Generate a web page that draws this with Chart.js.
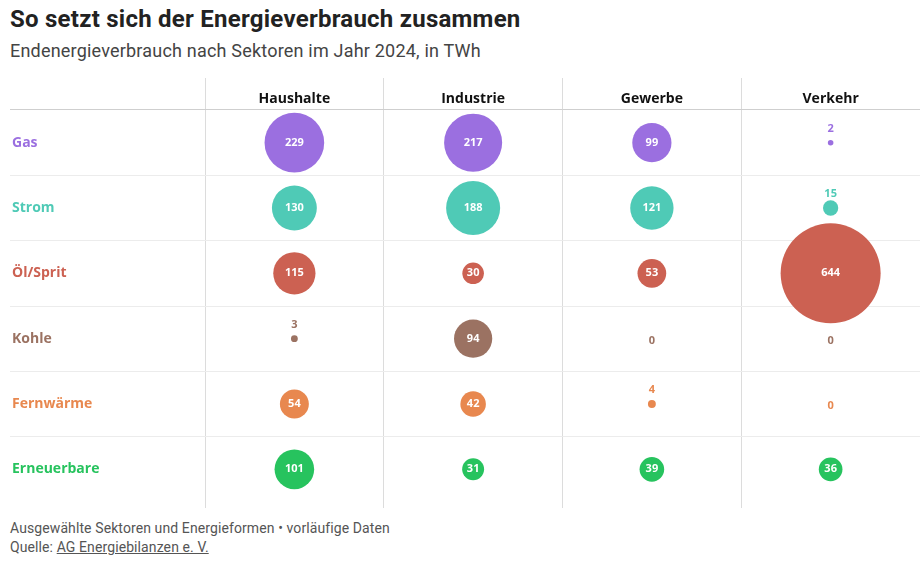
<!DOCTYPE html>
<html lang="de">
<head>
<meta charset="UTF-8">
<title>So setzt sich der Energieverbrauch zusammen</title>
<script src="https://cdn.jsdelivr.net/npm/chart.js@4.4.0/dist/chart.umd.min.js"></script>
<style>
  body { margin: 0; width: 922px; height: 564px; background: #fff; font-family: "Roboto", sans-serif; position: relative; overflow: hidden; }
  h1 { position: absolute; left: 10px; top: 5px; margin: 0; font-size: 24px; font-weight: 700; color: #222; letter-spacing: 0.25px; }
  .sub { position: absolute; left: 10px; top: 40px; margin: 0; font-size: 18px; color: #444; letter-spacing: 0.2px; }
  .wrap { position: absolute; left: 0; top: 78px; width: 922px; height: 438px; }
  .foot { position: absolute; left: 10px; top: 519px; font-size: 14px; color: #555; line-height: 19px; letter-spacing: 0.1px; }
  .foot a { color: #555; }
</style>
</head>
<body>
<h1>So setzt sich der Energieverbrauch zusammen</h1>
<p class="sub">Endenergieverbrauch nach Sektoren im Jahr 2024, in TWh</p>
<div class="wrap"><canvas id="c"></canvas></div>
<div class="foot">Ausgewählte Sektoren und Energieformen • vorläufige Daten<br>Quelle: <a href="#">AG Energiebilanzen e. V.</a></div>
<script>
// Zeilen und Spalten
const forms = ["Gas", "Strom", "Öl/Sprit", "Kohle", "Fernwärme", "Erneuerbare"];
const sectors = ["Haushalte", "Industrie", "Gewerbe", "Verkehr"];
const colors = ["#9b6fe0", "#4fcab6", "#cc6152", "#9b7262", "#e8884f", "#27c35e"];

// TWh je Sektor, Reihenfolge wie forms
const haushalte = [229, 130, 115, 3, 54, 101];
const industrie = [217, 188, 30, 94, 42, 31];
const gewerbe = [99, 121, 53, 0, 4, 39];
const verkehr = [2, 15, 644, 0, 0, 36];

const bySector = [haushalte, industrie, gewerbe, verkehr];
const maxR = 50, maxV = 644;
const rad = v => maxR * Math.sqrt(v / maxV);
const FONT = '"Open Sans", sans-serif';
const NONE = 'rgba(0,0,0,0)';

const datasets = forms.map((f, j) => ({
  label: f,
  backgroundColor: colors[j],
  borderWidth: 0,
  data: sectors.map((s, i) => ({ x: s, y: f, v: bySector[i][j], r: rad(bySector[i][j]) }))
}));

// Werte in / über den Kreisen
const valueLabels = {
  id: 'valueLabels',
  afterDatasetsDraw(chart) {
    const ctx = chart.ctx;
    ctx.save();
    ctx.font = 'bold 11px ' + FONT;
    ctx.textAlign = 'center';
    ctx.textBaseline = 'middle';
    chart.data.datasets.forEach((ds, j) => {
      chart.getDatasetMeta(j).data.forEach((el, i) => {
        const d = ds.data[i];
        const r = d.r;
        if (d.v === 0) {
          ctx.fillStyle = colors[j];
          ctx.fillText('0', el.x, el.y + 2);
        } else if (r >= 9) {
          ctx.fillStyle = '#fff';
          ctx.fillText(d.v, el.x, el.y);
        } else {
          ctx.fillStyle = colors[j];
          ctx.fillText(d.v, el.x, el.y - Math.max(r + 7, 14));
        }
      });
    });
    ctx.restore();
  }
};

new Chart(document.getElementById('c'), {
  type: 'bubble',
  data: { datasets },
  options: {
    responsive: true,
    maintainAspectRatio: false,
    animation: false,
    layout: { autoPadding: false, padding: { left: 12, right: 2, top: 0, bottom: 0 } },
    plugins: { legend: { display: false }, tooltip: { enabled: false } },
    scales: {
      x: {
        type: 'category',
        labels: sectors,
        position: 'top',
        offset: true,
        border: { display: false },
        grid: {
          offset: true,
          tickLength: 32,
          color: c => c.tick ? '#dcdcdc' : NONE
        },
        ticks: { color: '#111', font: { family: FONT, weight: 'bold', size: 14 }, padding: -29, maxRotation: 0 },
        afterFit: s => { s.height = 32; }
      },
      x2: {
        type: 'category',
        labels: sectors,
        position: 'bottom',
        offset: true,
        border: { display: false },
        grid: {
          offset: true,
          drawOnChartArea: false,
          tickLength: 6,
          color: c => c.tick ? '#dcdcdc' : NONE
        },
        ticks: { display: false },
        afterFit: s => { s.height = 14; }
      },
      y: {
        type: 'category',
        labels: forms,
        offset: true,
        border: { display: false },
        grid: {
          offset: true,
          tickLength: 195,
          color: c => !c.tick ? NONE : c.index === 0 ? '#cfcfcf' : '#ececec'
        },
        ticks: {
          crossAlign: 'far',
          color: c => colors[c.index],
          font: { family: FONT, weight: 'bold', size: 14 }
        },
        afterFit: s => { s.width = 193; }
      }
    }
  },
  plugins: [valueLabels]
});
</script>
</body>
</html>
